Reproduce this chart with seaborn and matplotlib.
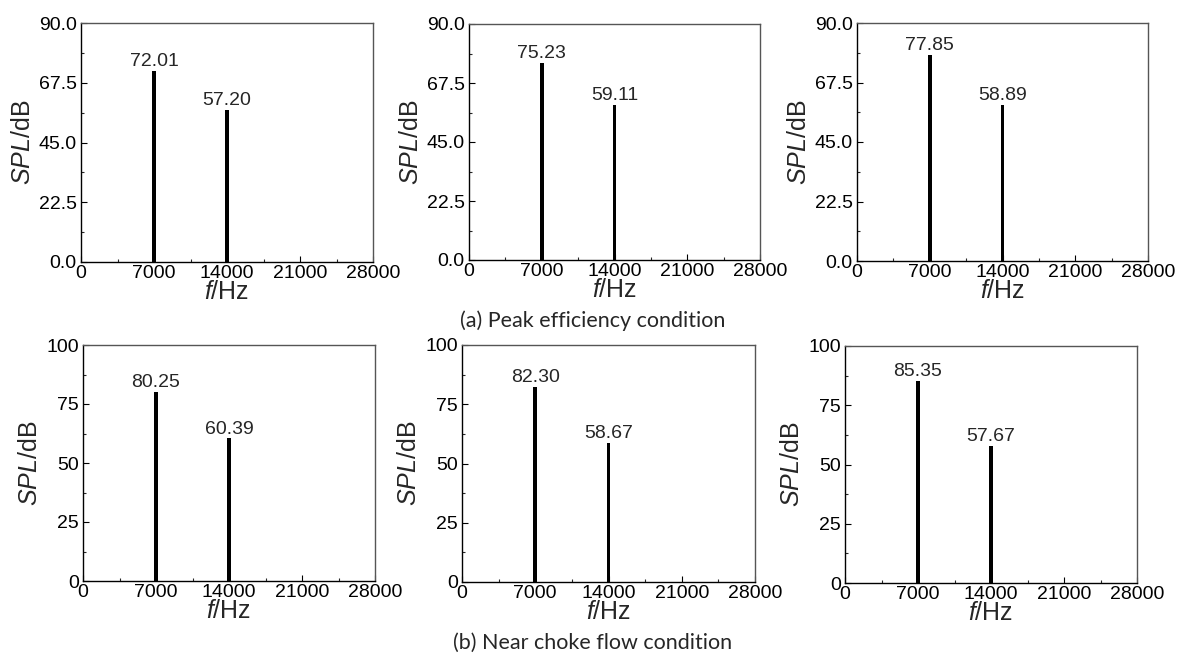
import matplotlib
matplotlib.use("Agg")
import matplotlib.pyplot as plt
import seaborn as sns
import pandas as pd
from matplotlib.ticker import MultipleLocator

sns.set_theme(style="ticks")
plt.rcParams['font.family'] = ['Liberation Sans', 'DejaVu Sans']
plt.rcParams['mathtext.fontset'] = 'custom'
plt.rcParams['mathtext.rm'] = 'Liberation Sans'
plt.rcParams['mathtext.it'] = 'Liberation Sans:italic'

freqs = [7000, 14000]
spl_a1 = [72.01, 57.20]
spl_a2 = [75.23, 59.11]
spl_a3 = [77.85, 58.89]
spl_b1 = [80.25, 60.39]
spl_b2 = [82.30, 58.67]
spl_b3 = [85.35, 57.67]
labels_a1 = ["72.01", "57.20"]
labels_a2 = ["75.23", "59.11"]
labels_a3 = ["77.85", "58.89"]
labels_b1 = ["80.25", "60.39"]
labels_b2 = ["82.30", "58.67"]
labels_b3 = ["85.35", "57.67"]
x_ticks = [0, 7000, 14000, 21000, 28000]
y_ticks_a = [0.0, 22.5, 45.0, 67.5, 90.0]
y_ticklabels_a = ["0.0", "22.5", "45.0", "67.5", "90.0"]
y_ticks_b = [0, 25, 50, 75, 100]
y_ticklabels_b = ["0", "25", "50", "75", "100"]
caption_a = "(a) Peak efficiency condition"
caption_b = "(b) Near choke flow condition"

fig = plt.figure(figsize=(11.81, 6.55), dpi=100)
W, H = 1181, 655

def add_ax(l, r, t, b):
    return fig.add_axes([l / W, 1 - b / H, (r - l) / W, (b - t) / H])

panels = [
    ((81, 373, 23, 262), spl_a1, labels_a1, y_ticks_a, y_ticklabels_a, 90),
    ((469, 760, 24, 260), spl_a2, labels_a2, y_ticks_a, y_ticklabels_a, 90),
    ((857, 1148, 23, 261), spl_a3, labels_a3, y_ticks_a, y_ticklabels_a, 90),
    ((83, 375, 345, 581), spl_b1, labels_b1, y_ticks_b, y_ticklabels_b, 100),
    ((462, 755, 345, 582), spl_b2, labels_b2, y_ticks_b, y_ticklabels_b, 100),
    ((845, 1137, 346, 583), spl_b3, labels_b3, y_ticks_b, y_ticklabels_b, 100),
]

for box, vals, labs, yt, ytl, ymax in panels:
    ax = add_ax(*box)
    df = pd.DataFrame({"f": freqs, "spl": vals})
    sns.barplot(data=df, x="f", y="spl", native_scale=True, width=0.05,
                color="black", edgecolor="black", linewidth=0, ax=ax,
                errorbar=None, saturation=1)
    ax.set_xlim(0, 28000)
    ax.set_ylim(0, ymax)
    ax.set_xticks(x_ticks)
    ax.set_xticklabels([str(v) for v in x_ticks])
    ax.xaxis.set_minor_locator(MultipleLocator(3500))
    ax.set_yticks(yt)
    ax.set_yticklabels(ytl)
    step = yt[1] - yt[0]
    ax.yaxis.set_minor_locator(MultipleLocator(step / 2))
    ax.tick_params(axis='both', which='major', direction='in', length=4,
                   width=0.8, labelsize=14, colors='black')
    ax.tick_params(axis='x', which='major', pad=2)
    ax.tick_params(axis='y', which='major', pad=3)
    ax.tick_params(axis='both', which='minor', direction='in', length=2.5,
                   width=0.8)
    for s in ["left", "bottom"]:
        ax.spines[s].set_color("black")
        ax.spines[s].set_linewidth(1.0)
    for s in ["top", "right"]:
        ax.spines[s].set_visible(True)
        ax.spines[s].set_color("#555555")
        ax.spines[s].set_linewidth(1.0)
    ax.set_xlabel(r"$\mathit{f}$/Hz", fontsize=18, labelpad=-1)
    ax.set_ylabel(r"$\mathit{SPL}$/dB", fontsize=18, labelpad=3)
    for fx, v, t in zip(freqs, vals, labs):
        ax.text(fx, v + 0.4, t, ha="center", va="bottom", fontsize=14)

fig.text(593 / W, 1 - 321 / H, caption_a, ha="center", va="center",
         fontsize=15.5, family=["Lato", "DejaVu Sans"])
fig.text(593 / W, 1 - 643 / H, caption_b, ha="center", va="center",
         fontsize=15.5, family=["Lato", "DejaVu Sans"])

fig.savefig("out.png", dpi=100)
